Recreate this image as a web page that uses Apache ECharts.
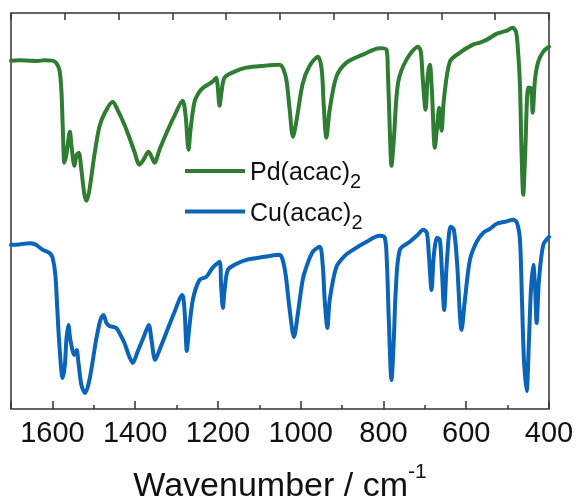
<!DOCTYPE html>
<html>
<head>
<meta charset="utf-8">
<script src="https://cdn.jsdelivr.net/npm/echarts@6/dist/echarts.min.js"></script>
<style>html,body{margin:0;padding:0;background:#fff}#c{width:580px;height:501px}</style>
</head>
<body>
<div id="c"></div>
<script>
// ---- Data ----
const seriesNames = ['Pd(acac)2', 'Cu(acac)2'];
const xTickLabels = [1600, 1400, 1200, 1000, 800, 600, 400];

const pdWavenumber = [1700,1680,1655.7,1636.4,1619.4,1600.1,1591.1,1583.1,1578.3,1574.7,1571.0,1566.2,1557.7,1554.1,1546.8,1542.0,1536.4,1529.9,1522.6,1517.1,1510.5,1498.4,1486.4,1474.3,1454.2,1442.8,1425.9,1413.8,1401.7,1389.6,1379.9,1367.8,1360.5,1353.3,1341.2,1325.0,1304.9,1285.5,1278.3,1271.0,1266.2,1256.5,1244.4,1232.3,1213.0,1204.0,1200.9,1196.0,1191.2,1183.9,1159.7,1131.4,1087.1,1050.8,1041.2,1033.9,1026.6,1018.7,1009.7,995.2,978.3,958.2,949.2,944.4,937.9,929.9,913.7,889.5,850.0,808.9,792.7,789.5,784.7,780.6,775.0,764.6,744.3,716.2,709.7,704.9,698.3,692.8,687.9,683.1,675.8,671.0,665.4,659.6,654.0,639.5,615.3,583.9,566.9,550.0,525.8,501.6,487.8,479.8,475.0,470.2,466.5,462.2,458.1,450.1,444.3,439.4,433.9,425.9,413.8,400.0];
const pdValues = [87.0,87.1,87.0,86.9,87.1,87.0,86.5,84.75,79.75,69.75,61.5,63.5,69.25,66.0,60.75,63.25,64.0,59.75,53.5,52.0,54.75,63.5,70.5,73.75,76.75,74.75,71.0,67.75,64.25,61.0,62.25,64.25,63.0,61.5,64.75,68.75,73.25,77.0,73.5,64.75,69.75,76.75,79.25,80.5,81.75,82.75,81.0,75.75,79.25,82.75,84.25,85.25,85.75,86.0,84.75,81.75,74.75,68.0,72.25,81.25,85.75,88.0,84.75,76.0,67.75,74.75,83.0,86.5,88.5,90.1,89.75,84.75,69.75,60.75,67.25,81.5,87.25,90.5,89.25,82.25,74.75,83.5,86.0,79.75,65.25,69.75,75.25,69.5,77.25,86.75,89.0,91.0,91.5,92.25,93.75,94.5,95.2,94.25,89.75,81.0,64.75,53.5,62.25,80.25,80.25,74.0,82.25,86.75,89.25,90.5];

const cuWavenumber = [1700,1680,1655.7,1641.2,1631.5,1623.5,1612.2,1604.9,1599.3,1592.8,1588.0,1583.1,1575.2,1569.8,1566.2,1561.4,1556.5,1546.8,1541.3,1537.2,1529.9,1521.0,1510.5,1494.3,1483.9,1476.7,1469.4,1462.2,1445.9,1435.5,1425.9,1413.8,1405.8,1394.4,1377.5,1367.1,1360.5,1351.6,1341.2,1325.0,1304.9,1286.3,1280.7,1275.1,1271.0,1260.6,1244.4,1228.2,1213.0,1196.0,1192.4,1188.0,1183.9,1175.9,1159.7,1131.4,1087.1,1050.8,1043.6,1036.3,1026.6,1016.2,1007.3,995.2,986.2,971.0,954.1,946.8,942.0,935.4,929.9,913.7,893.6,873.5,845.2,808.9,796.8,792.0,787.1,780.6,775.0,770.2,760.5,736.3,717.0,704.1,695.2,690.3,683.8,678.2,670.3,663.7,658.9,653.3,648.0,641.9,637.8,629.9,622.6,611.2,603.2,591.1,574.9,559.0,542.7,526.5,506.5,486.4,477.4,470.2,465.3,460.5,454.0,448.4,443.6,438.0,433.9,429.8,424.2,413.8,400.0];
const cuValues = [41.0,41.1,41.4,41.1,40.4,39.75,39.25,38.75,37.75,33.5,24.75,16.0,7.75,11.0,17.25,21.0,17.25,13.5,14.75,11.75,6.0,4.0,7.25,17.25,22.25,23.5,21.5,20.75,20.25,18.5,16.5,13.0,11.5,14.25,18.5,21.0,17.25,12.25,14.75,19.0,24.25,28.5,24.75,14.5,18.5,27.25,32.25,33.0,35.25,36.75,31.0,25.25,29.75,34.75,36.0,37.25,38.0,38.5,37.25,33.5,24.75,18.0,23.5,32.25,35.5,39.25,40.5,36.0,27.25,20.25,27.25,35.5,38.25,39.75,41.5,43.25,42.75,37.25,22.25,7.25,17.25,29.75,39.75,41.75,43.5,44.75,44.0,38.5,29.75,38.5,42.75,42.25,34.75,24.75,34.75,43.5,45.5,44.75,37.25,19.75,27.25,37.25,41.75,44.0,45.0,46.25,46.75,47.25,46.5,42.25,27.25,12.25,4.5,17.25,29.75,36.0,31.0,21.5,32.25,41.0,43.0];

const pdColor = '#2e7d32';
const cuColor = '#0a64b9';

const pdData = pdWavenumber.map((w, i) => [w, pdValues[i]]);
const cuData = cuWavenumber.map((w, i) => [w, cuValues[i]]);

const chart = echarts.init(document.getElementById('c'), null, {renderer: 'canvas'});
const FONT = 'Liberation Sans, Arial, sans-serif';
const gridPos = {left: 11, right: 31, top: 13, bottom: 92, outerBoundsMode: 'none', containLabel: false};

chart.setOption({
  animation: false,
  backgroundColor: '#fff',
  grid: [
    Object.assign({show: true, borderColor: '#333', borderWidth: 1.5, backgroundColor: 'transparent'}, gridPos),
    Object.assign({show: false}, gridPos)
  ],
  legend: {
    orient: 'vertical',
    left: 185, top: 161,
    padding: 0,
    itemGap: 9,
    itemWidth: 60, itemHeight: 4,
    icon: 'rect',
    data: seriesNames,
    formatter: function (name) {
      const m = name.match(/^(.*)(\d)$/);
      return '{n|' + m[1] + '}{s|' + m[2] + '}';
    },
    textStyle: {
      fontFamily: FONT, color: '#111',
      padding: [5, 0, 0, 0],
      rich: {
        n: {fontSize: 25, fontFamily: FONT, color: '#111', lineHeight: 38, verticalAlign: 'middle'},
        s: {fontSize: 20, fontFamily: FONT, color: '#111', lineHeight: 32, verticalAlign: 'bottom'}
      }
    }
  },
  xAxis: [
    {
      gridIndex: 0, type: 'value', position: 'bottom',
      min: 400, max: 1700, interval: 200, inverse: true,
      axisLine: {show: false},
      axisTick: {show: true, inside: true, length: 8, lineStyle: {color: '#333', width: 1.5}},
      axisLabel: {
        fontFamily: FONT, fontSize: 29, color: '#111', margin: 10,
        formatter: function (v) { return xTickLabels.indexOf(v) >= 0 ? String(v) : ''; }
      },
      splitLine: {show: false},
      name: '{t|Wavenumber / cm}{p|-1}',
      nameLocation: 'middle',
      nameGap: 53,
      nameTextStyle: {
        rich: {
          t: {fontSize: 34, fontFamily: FONT, color: '#111', lineHeight: 42, verticalAlign: 'bottom'},
          p: {fontSize: 21, fontFamily: FONT, color: '#111', lineHeight: 30, verticalAlign: 'top'}
        }
      }
    },
    {
      gridIndex: 0, type: 'value', position: 'top',
      min: 0, max: 10, interval: 1,
      axisLine: {show: false},
      axisTick: {show: true, inside: true, length: 7, lineStyle: {color: '#333', width: 1.5}},
      axisLabel: {show: false},
      splitLine: {show: false}
    },
    {
      gridIndex: 1, type: 'value', position: 'bottom',
      min: 400, max: 1700, interval: 100, inverse: true,
      axisLine: {show: false},
      axisTick: {show: true, inside: true, length: 4, lineStyle: {color: '#333', width: 1.5}},
      axisLabel: {show: false},
      splitLine: {show: false}
    }
  ],
  yAxis: [
    {gridIndex: 0, type: 'value', min: 0, max: 98.9, show: false},
    {gridIndex: 1, type: 'value', min: 0, max: 98.9, show: false}
  ],
  series: [
    {
      name: seriesNames[0], type: 'line', xAxisIndex: 0, yAxisIndex: 0,
      data: pdData, showSymbol: false, smooth: 0.3,
      lineStyle: {color: pdColor, width: 4, join: 'round', cap: 'round'},
      itemStyle: {color: pdColor}
    },
    {
      name: seriesNames[1], type: 'line', xAxisIndex: 0, yAxisIndex: 0,
      data: cuData, showSymbol: false, smooth: 0.3,
      lineStyle: {color: cuColor, width: 4, join: 'round', cap: 'round'},
      itemStyle: {color: cuColor}
    }
  ]
});
</script>
</body>
</html>
